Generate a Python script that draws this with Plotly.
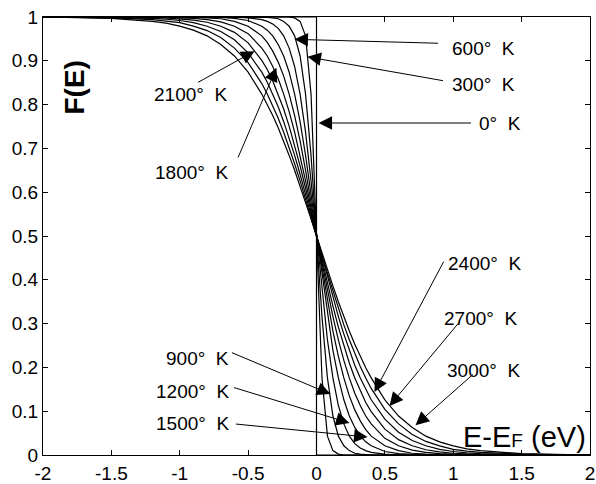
import plotly.graph_objects as go

# Energy relative to Fermi level (eV)
x_e = [-2, -1.5, -1.2, -1.1, -1.0, -0.9, -0.8, -0.7, -0.6, -0.5, -0.4, -0.36, -0.32, -0.28,
       -0.24, -0.2, -0.16, -0.12, -0.08, -0.04, 0, 0.04, 0.08, 0.12, 0.16, 0.2, 0.24, 0.28,
       0.32, 0.36, 0.4, 0.5, 0.6, 0.7, 0.8, 0.9, 1.0, 1.1, 1.2, 1.5, 2]

f_300 = [1, 1, 1, 1, 1, 1, 1, 1, 1, 1, 1, 1, 1, 1, 1, 1, 0.998, 0.990, 0.957, 0.824, 0.5,
         0.176, 0.043, 0.010, 0.002, 0, 0, 0, 0, 0, 0, 0, 0, 0, 0, 0, 0, 0, 0, 0, 0]
f_600 = [1, 1, 1, 1, 1, 1, 1, 1, 1, 1, 1, 0.999, 0.998, 0.996, 0.990, 0.979, 0.957, 0.911, 0.824, 0.684, 0.5,
         0.316, 0.176, 0.089, 0.043, 0.021, 0.010, 0.004, 0.002, 0.001, 0, 0, 0, 0, 0, 0, 0, 0, 0, 0, 0]
f_900 = [1, 1, 1, 1, 1, 1, 1, 1, 1, 0.998, 0.994, 0.990, 0.984, 0.974, 0.957, 0.929, 0.887, 0.824, 0.737, 0.626, 0.5,
         0.374, 0.263, 0.176, 0.113, 0.071, 0.043, 0.026, 0.016, 0.010, 0.006, 0.002, 0, 0, 0, 0, 0, 0, 0, 0, 0]
f_1200 = [1, 1, 1, 1, 1, 1, 1, 0.999, 0.997, 0.992, 0.979, 0.970, 0.957, 0.937, 0.911, 0.874, 0.824, 0.761, 0.684, 0.595, 0.5,
          0.405, 0.316, 0.239, 0.176, 0.126, 0.089, 0.063, 0.043, 0.030, 0.021, 0.008, 0.003, 0.001, 0, 0, 0, 0, 0, 0, 0]
f_1500 = [1, 1, 1, 1, 1, 0.999, 0.998, 0.996, 0.990, 0.979, 0.957, 0.942, 0.922, 0.897, 0.865, 0.824, 0.775, 0.717, 0.650, 0.577, 0.5,
          0.423, 0.350, 0.283, 0.225, 0.176, 0.135, 0.103, 0.078, 0.058, 0.043, 0.021, 0.010, 0.004, 0.002, 0.001, 0, 0, 0, 0, 0]
f_1800 = [1, 1, 1, 0.999, 0.998, 0.997, 0.994, 0.989, 0.979, 0.962, 0.929, 0.911, 0.887, 0.859, 0.824, 0.784, 0.737, 0.684, 0.626, 0.564, 0.5,
          0.436, 0.374, 0.316, 0.263, 0.216, 0.176, 0.141, 0.113, 0.089, 0.071, 0.038, 0.021, 0.011, 0.006, 0.003, 0.002, 0.001, 0, 0, 0]
f_2100 = [1, 1, 0.999, 0.998, 0.996, 0.993, 0.988, 0.979, 0.965, 0.941, 0.901, 0.880, 0.854, 0.824, 0.790, 0.751, 0.708, 0.660, 0.609, 0.555, 0.5,
          0.445, 0.391, 0.340, 0.292, 0.249, 0.210, 0.176, 0.146, 0.120, 0.099, 0.059, 0.035, 0.021, 0.012, 0.007, 0.004, 0.002, 0.001, 0, 0]
f_2400 = [1, 0.999, 0.997, 0.995, 0.992, 0.987, 0.979, 0.967, 0.948, 0.918, 0.874, 0.851, 0.824, 0.795, 0.761, 0.724, 0.684, 0.641, 0.595, 0.548, 0.5,
          0.452, 0.405, 0.359, 0.316, 0.276, 0.239, 0.205, 0.176, 0.149, 0.126, 0.082, 0.052, 0.033, 0.021, 0.013, 0.008, 0.005, 0.003, 0.001, 0]
f_2700 = [1, 0.998, 0.994, 0.991, 0.987, 0.979, 0.969, 0.953, 0.929, 0.896, 0.848, 0.824, 0.798, 0.769, 0.737, 0.703, 0.665, 0.626, 0.585, 0.543, 0.5,
          0.457, 0.415, 0.374, 0.335, 0.297, 0.263, 0.231, 0.202, 0.176, 0.152, 0.104, 0.071, 0.047, 0.031, 0.021, 0.013, 0.009, 0.006, 0.002, 0]
f_3000 = [1, 0.997, 0.990, 0.986, 0.979, 0.970, 0.957, 0.937, 0.911, 0.874, 0.824, 0.801, 0.775, 0.747, 0.717, 0.684, 0.650, 0.614, 0.577, 0.539, 0.5,
          0.461, 0.423, 0.386, 0.350, 0.316, 0.283, 0.253, 0.225, 0.199, 0.176, 0.126, 0.089, 0.063, 0.043, 0.030, 0.021, 0.014, 0.010, 0.003, 0]

# 0 K step function
x_0k = [-2, 0, 0, 2]
f_0k = [1, 1, 0, 0]

curves = [f_300, f_600, f_900, f_1200, f_1500, f_1800, f_2100, f_2400, f_2700, f_3000]

# Labels: text, text position, arrow tail, arrow head
label_texts = ["600°  K", "300°  K", "0°  K", "2100°  K", "1800°  K",
               "900°  K", "1200°  K", "1500°  K", "2400°  K", "2700°  K", "3000°  K"]
label_x = [1.221, 1.221, 1.34, -0.921, -0.914, -0.870, -0.907, -0.907, 1.229, 1.199, 1.221]
label_y = [0.929, 0.845, 0.758, 0.824, 0.644, 0.221, 0.144, 0.073, 0.438, 0.311, 0.192]
tail_x = [0.90, 0.936, 1.14, -0.877, -0.578, -0.629, -0.614, -0.60, 0.936, 1.046, 1.155]
tail_y = [0.94, 0.854, 0.758, 0.849, 0.676, 0.235, 0.155, 0.071, 0.445, 0.304, 0.187]
head_x = [-0.161, -0.066, 0.015, -0.453, -0.293, 0.102, 0.241, 0.373, 0.424, 0.534, 0.724]
head_y = [0.949, 0.909, 0.758, 0.922, 0.884, 0.139, 0.073, 0.041, 0.144, 0.112, 0.068]

x_tickvals = [-2, -1.5, -1, -0.5, 0, 0.5, 1, 1.5, 2]
x_ticktext = ["-2", "-1.5", "-1", "-0.5", "0", "0.5", "1", "1.5", "2"]
y_tickvals = [0, 0.1, 0.2, 0.3, 0.4, 0.5, 0.6, 0.7, 0.8, 0.9, 1]
y_ticktext = ["0", "0.1", "0.2", "0.3", "0.4", "0.5", "0.6", "0.7", "0.8", "0.9", "1"]

FONT = "Arial, 'Liberation Sans', sans-serif"

fig = go.Figure()
fig.add_trace(go.Scatter(x=x_0k, y=f_0k, mode="lines",
                         line=dict(color="black", width=1.2), showlegend=False))
for f in curves:
    fig.add_trace(go.Scatter(x=x_e, y=f, mode="lines",
                             line=dict(color="black", width=1.2), showlegend=False))

annotations = []
for t, lx, ly in zip(label_texts, label_x, label_y):
    annotations.append(dict(x=lx, y=ly, xref="x", yref="y", text=t.replace(" ", "\u00a0"),
                            showarrow=False, font=dict(family=FONT, size=19, color="black"),
                            xanchor="center", yanchor="middle"))
for tx, ty, hx, hy in zip(tail_x, tail_y, head_x, head_y):
    annotations.append(dict(x=hx, y=hy, xref="x", yref="y", ax=tx, ay=ty,
                            axref="x", ayref="y", text="", showarrow=True,
                            arrowhead=2, arrowsize=2.7, arrowwidth=1, arrowcolor="black",
                            standoff=0, startstandoff=0))

annotations.append(dict(x=-1.77, y=0.84, xref="x", yref="y", text="<b>F(E)</b>",
                        textangle=-90, showarrow=False,
                        font=dict(family=FONT, size=28, color="black")))
annotations.append(dict(x=1.985, y=0.041, xref="x", yref="y",
                        text="E-E<span style='font-size:19px'>F</span> (eV)",
                        showarrow=False, xanchor="right", yanchor="middle",
                        font=dict(family=FONT, size=29, color="black")))

fig.update_layout(
    width=596, height=484,
    margin=dict(l=43, r=6, t=17, b=29, autoexpand=False),
    paper_bgcolor="white", plot_bgcolor="white",
    annotations=annotations,
    font=dict(family=FONT, color="black"),
)
fig.update_xaxes(range=[-2, 2], tickvals=x_tickvals, ticktext=x_ticktext,
                 showgrid=False, zeroline=False, showline=True, linecolor="black",
                 linewidth=1, mirror="allticks", ticks="inside", ticklen=5,
                 tickcolor="black", tickfont=dict(family=FONT, size=19, color="black"),
                 ticklabelstandoff=1, automargin=False)
fig.update_yaxes(range=[0, 1], tickvals=y_tickvals, ticktext=y_ticktext,
                 showgrid=False, zeroline=False, showline=True, linecolor="black",
                 linewidth=1, mirror="allticks", ticks="inside", ticklen=5,
                 tickcolor="black", tickfont=dict(family=FONT, size=19, color="black"),
                 automargin=False)

fig.write_html("out.html")
